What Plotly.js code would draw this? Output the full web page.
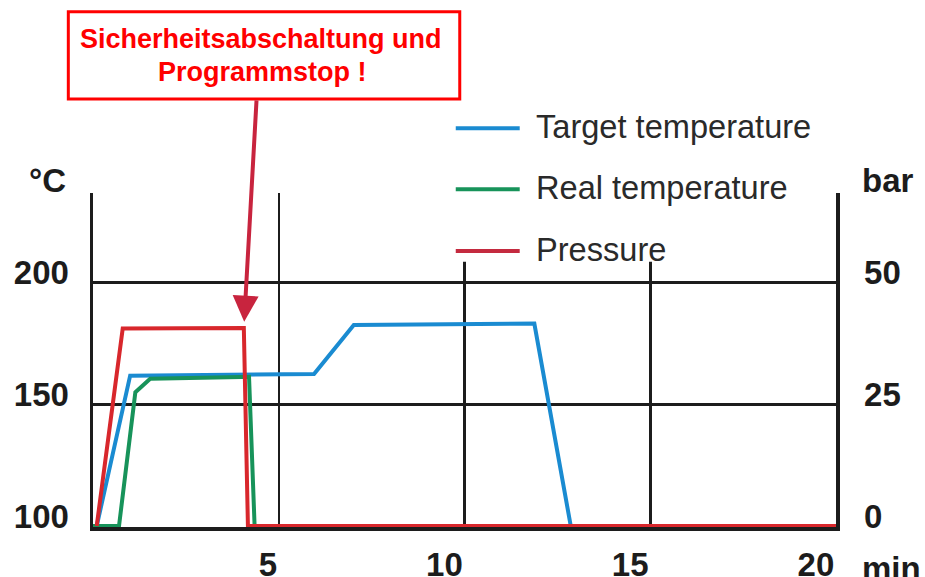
<!DOCTYPE html>
<html><head><meta charset="utf-8">
<script src="https://cdn.plot.ly/plotly-3.0.1.min.js"></script>
<style>html,body{margin:0;padding:0;background:#fff}#chart{width:925px;height:577px}</style>
</head><body><div id="chart"></div>
<script>
// ---- data ----
const targetTime = [0.1, 1.0, 5.95, 7.02, 11.88, 12.86];
const targetTemp = [100, 161.8, 162.5, 182.6, 183.2, 100];
const realTime = [0, 0.7, 1.14, 1.54, 4.0, 4.2, 4.35];
const realTemp = [100, 100, 155, 160.5, 161.2, 161.3, 100];
const pressureTime = [0.1, 0.8, 4.06, 4.17, 20];
const pressureBar = [0, 40.6, 40.7, 0, 0];
const xTicks = [5, 10, 15, 20];
const tempTicks = [100, 150, 200];
const barTicks = [0, 25, 50];
const seriesNames = ['Target temperature', 'Real temperature', 'Pressure'];
const seriesColors = ['#1a8bd1', '#17935a', '#d8272c'];
const legendColors = ['#1a8bd1', '#17935a', '#c42a3f'];
const noteLines = ['Sicherheitsabschaltung und', 'Programmstop !'];
const noteTime = 4.07, noteTemp = 184.0;
const unitLeft = '°C', unitRight = 'bar', unitX = 'min';

// ---- layout geometry ----
const W = 925, H = 577;
const M = {l: 93, r: 88.5, t: 193, b: 50};
const PW = W - M.l - M.r, PH = H - M.t - M.b;
const yRange = [99.59, 236.87];
const y2Range = [(yRange[0] - 100) / 2, (yRange[1] - 100) / 2];
const px = p => (p - M.l) / PW;
const py = p => (H - M.b - p) / PH;
const FONT = 'Liberation Sans, Arial, sans-serif';
const INK = '#1c1c1c';
const tickFont = {family: FONT, size: 33, weight: 700, color: INK};

const traces = [
  {x: targetTime, y: targetTemp, name: seriesNames[0], yaxis: 'y', mode: 'lines',
   line: {color: seriesColors[0], width: 4}},
  {x: realTime, y: realTemp, name: seriesNames[1], yaxis: 'y', mode: 'lines',
   line: {color: seriesColors[1], width: 4}},
  {x: pressureTime, y: pressureBar, name: seriesNames[2], yaxis: 'y2', mode: 'lines',
   line: {color: seriesColors[2], width: 4}}
];

const shapes = [
  // white legend background hiding upper gridlines
  {type: 'rect', xref: 'paper', yref: 'paper', x0: px(300), x1: px(830), y0: py(261.7), y1: py(100),
   fillcolor: '#ffffff', line: {width: 0}, layer: 'above'},
  // note box
  {type: 'rect', xref: 'paper', yref: 'paper', x0: px(68.3), x1: px(460), y0: py(99), y1: py(11.7),
   fillcolor: '#ffffff', line: {color: '#ff0000', width: 3}, layer: 'above'}
];
const legendY = [128.3, 189.3, 251];
const annotations = [];
seriesNames.forEach((n, i) => {
  shapes.push({type: 'line', xref: 'paper', yref: 'paper', x0: px(456), x1: px(520),
    y0: py(legendY[i]), y1: py(legendY[i]), line: {color: legendColors[i], width: 4}, layer: 'above'});
  annotations.push({xref: 'paper', yref: 'paper', x: px(534), y: py(legendY[i] - 1.5),
    xanchor: 'left', yanchor: 'middle', showarrow: false, text: n,
    font: {family: FONT, size: 32.6, color: '#2a2a2a'}});
});
annotations.push(
  {xref: 'paper', yref: 'paper', x: px(261), y: py(39.3), xanchor: 'center', yanchor: 'middle',
   showarrow: false, text: noteLines[0], font: {family: FONT, size: 27, weight: 700, color: '#ff0000'}},
  {xref: 'paper', yref: 'paper', x: px(263), y: py(71.7), xanchor: 'center', yanchor: 'middle',
   showarrow: false, text: noteLines[1], font: {family: FONT, size: 27, weight: 700, color: '#ff0000'}},
  {xref: 'x', yref: 'y', x: noteTime, y: noteTemp, text: '', showarrow: true,
   ax: 12.4, ay: -222.7, arrowhead: 2, arrowsize: 1.3, arrowwidth: 4, arrowcolor: '#c8243e', standoff: 0},
  {xref: 'paper', yref: 'paper', x: px(27), y: py(180), xanchor: 'left', yanchor: 'middle',
   showarrow: false, text: unitLeft, font: tickFont},
  {xref: 'paper', yref: 'paper', x: px(861), y: py(181), xanchor: 'left', yanchor: 'middle',
   showarrow: false, text: unitRight, font: tickFont},
  {xref: 'paper', yref: 'paper', x: px(861), y: py(568), xanchor: 'left', yanchor: 'middle',
   showarrow: false, text: unitX, font: tickFont}
);

const layout = {
  width: W, height: H, margin: M, paper_bgcolor: '#fff', plot_bgcolor: '#fff',
  showlegend: false,
  xaxis: {range: [0, 20], tickvals: xTicks, showgrid: true, gridcolor: INK, gridwidth: 2.5,
    showline: true, linecolor: INK, linewidth: 3.5, zeroline: false, ticks: '',
    ticklabelposition: 'outside left', ticklabelstandoff: 6, tickfont: tickFont, fixedrange: true},
  yaxis: {range: yRange, tickvals: tempTicks, showgrid: true, gridcolor: INK, gridwidth: 2.5,
    showline: true, linecolor: INK, linewidth: 3.5, zeroline: false, ticks: '',
    ticklabelshift: -10, ticklabelstandoff: 14, tickfont: tickFont, fixedrange: true},
  yaxis2: {range: y2Range, tickvals: barTicks, overlaying: 'y', side: 'right', showgrid: false,
    showline: true, linecolor: INK, linewidth: 3.5, zeroline: false, ticks: '',
    ticklabelshift: -10, ticklabelstandoff: 18, tickfont: tickFont, fixedrange: true},
  shapes: shapes, annotations: annotations
};
Plotly.newPlot('chart', traces, layout, {displayModeBar: false, staticPlot: true});
</script></body></html>
